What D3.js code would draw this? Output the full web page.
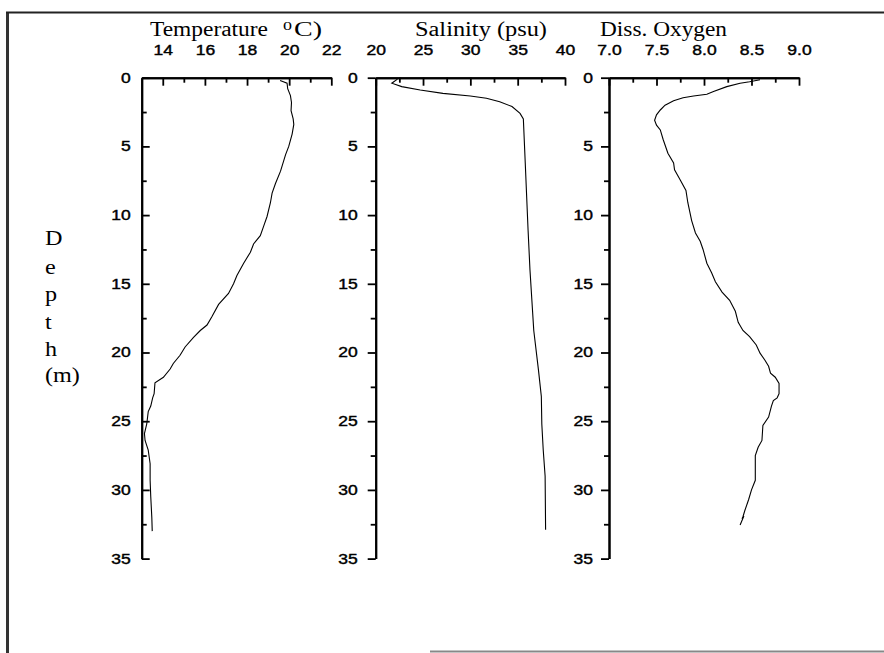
<!DOCTYPE html>
<html>
<head>
<meta charset="utf-8">
<script src="https://cdn.jsdelivr.net/npm/d3@7"></script>
<style>
  body { margin: 0; background: #fff; }
  .title { font-family: "Liberation Serif", "Times New Roman", serif; font-size: 20px; fill: #000; }
</style>
</head>
<body>
<div id="chart"></div>
<script>
// depth profiles (depth in m)
const tempDepth = [0.2, 0.4, 0.8, 1.3, 1.8, 2.4, 3.0, 3.4, 4.1, 5.0, 5.6, 6.4, 6.8, 7.7, 8.4, 9.1, 10.1, 10.8, 11.5, 12.1,
    12.7, 13.5, 14.4, 15.0, 15.7, 16.5, 17.4, 18.0, 18.4, 18.9, 19.6, 20.2, 20.8, 21.2, 21.8, 22.2, 23.0, 23.3, 23.9, 24.3,
    25.2, 25.9, 26.4, 27.1, 28.1, 29.3, 30.5, 32.0, 33.0];
const tempValues = [19.57, 19.90, 19.93, 20.06, 20.11, 20.09, 20.19, 20.22, 20.14, 19.98, 19.83, 19.67, 19.59, 19.35, 19.19,
    19.11, 18.95, 18.79, 18.63, 18.31, 18.16, 17.84, 17.52, 17.36, 17.12, 16.65, 16.33, 16.10, 15.78, 15.46, 15.06, 14.82,
    14.50, 14.35, 14.03, 13.63, 13.59, 13.52, 13.43, 13.31, 13.24, 13.13, 13.16, 13.31, 13.40, 13.40, 13.43, 13.48, 13.50];

const salDepth = [0.1, 0.4, 0.65, 0.9, 1.14, 1.33, 1.5, 1.75, 2.1, 2.6, 3.0, 6.2, 11.1, 14.0, 16.2, 18.4, 21.3, 23.2, 25.2,
    27.1, 29.0, 32.9];
const salValues = [22.3, 21.7, 22.75, 24.7, 27.1, 30.0, 31.7, 33.1, 34.4, 35.25, 35.6, 35.8, 36.1, 36.3, 36.5, 36.7, 37.2,
    37.5, 37.55, 37.7, 37.9, 37.95];

const oxyDepth = [0.15, 0.3, 0.4, 0.65, 1.0, 1.2, 1.33, 1.46, 1.67, 2.0, 2.35, 2.7, 3.1, 3.45, 3.8, 4.5, 5.5, 6.2, 6.7, 7.45,
    8.2, 9.1, 10.4, 11.3, 11.9, 12.5, 13.5, 14.2, 14.85, 15.6, 16.2, 17.0, 17.8, 18.4, 18.85, 19.45, 20.05, 20.55, 21.0, 21.5,
    21.8, 22.25, 23.0, 23.3, 23.5, 23.9, 24.7, 25.3, 26.4, 26.9, 27.5, 29.3, 30.0, 30.7, 31.5, 31.95, 32.1, 31.9, 32.55];
const oxyValues = [8.59, 8.48, 8.38, 8.24, 8.10, 8.03, 7.89, 7.78, 7.68, 7.59, 7.54, 7.50, 7.48, 7.50, 7.54, 7.57, 7.62, 7.68,
    7.69, 7.75, 7.81, 7.83, 7.87, 7.91, 7.96, 7.99, 8.03, 8.08, 8.12, 8.19, 8.27, 8.33, 8.36, 8.41, 8.48, 8.55, 8.59, 8.64,
    8.68, 8.70, 8.75, 8.79, 8.79, 8.77, 8.73, 8.71, 8.68, 8.62, 8.61, 8.57, 8.54, 8.54, 8.50, 8.47, 8.43, 8.41, 8.40, 8.42, 8.38];

// tick values
const depthTicks = [0, 5, 10, 15, 20, 25, 30, 35];
const depthMinor = [2.5, 7.5, 12.5, 17.5, 22.5, 27.5, 32.5];
const tempTicks = [14, 16, 18, 20, 22];
const tempMinor = [15, 17, 19, 21];
const salTicks = [20, 25, 30, 35, 40];
const salMinor = [22.5, 27.5, 32.5, 37.5];
const oxyTicks = [7.0, 7.5, 8.0, 8.5, 9.0];
const oxyMinor = [7.25, 7.75, 8.25, 8.75];

const width = 884, height = 653;

const svg = d3.select("#chart").append("svg")
    .attr("width", width)
    .attr("height", height);

// frame of the scan
svg.append("line").attr("x1", 7.5).attr("x2", 7.5).attr("y1", 12).attr("y2", 653)
    .attr("stroke", "#333").attr("stroke-width", 3);
svg.append("line").attr("x1", 6).attr("x2", 884).attr("y1", 12.5).attr("y2", 12.5)
    .attr("stroke", "#222").attr("stroke-width", 2);
svg.append("line").attr("x1", 430).attr("x2", 884).attr("y1", 651.5).attr("y2", 651.5)
    .attr("stroke", "#888").attr("stroke-width", 2);

const y = d3.scaleLinear().domain([0, 35]).range([77.7, 558.6]);

const panels = [
    { depth: tempDepth, values: tempValues, domain: [13, 22], range: [141.7, 331.3], ticks: tempTicks, minor: tempMinor,
      fmt: d3.format("d"), inward: true, pad: 11 },
    { depth: salDepth, values: salValues, domain: [20, 40], range: [375.7, 565], ticks: salTicks, minor: salMinor,
      fmt: d3.format("d"), inward: false, pad: 10 },
    { depth: oxyDepth, values: oxyValues, domain: [7, 9], range: [609, 799], ticks: oxyTicks, minor: oxyMinor,
      fmt: d3.format(".1f"), inward: false, pad: 8 }
];

panels.forEach(p => {
    const x = d3.scaleLinear().domain(p.domain).range(p.range);
    const g = svg.append("g");

    // top axis, ticks pointing down into the plot
    g.append("g")
        .attr("transform", `translate(0,${y(0)})`)
        .call(d3.axisTop(x).tickValues(p.minor).tickSizeInner(-5).tickSizeOuter(0).tickFormat(""));
    g.append("g")
        .attr("transform", `translate(0,${y(0)})`)
        .call(d3.axisTop(x).tickValues(p.ticks).tickSizeInner(-8).tickSizeOuter(0).tickPadding(23).tickFormat(p.fmt));

    // depth axis (temperature ticks point inward, the others outward)
    const major = p.inward ? -8 : 8, minor = p.inward ? -5 : 5;
    g.append("g")
        .attr("transform", `translate(${x.range()[0]},0)`)
        .call(d3.axisLeft(y).tickValues(depthMinor).tickSizeInner(minor).tickSizeOuter(0).tickFormat(""));
    g.append("g")
        .attr("transform", `translate(${x.range()[0]},0)`)
        .call(d3.axisLeft(y).tickValues(depthTicks).tickSizeInner(major).tickSizeOuter(0)
            .tickPadding(p.pad).tickFormat(d3.format("d")));

    g.selectAll(".domain").attr("stroke", "#000").attr("stroke-width", 2);
    g.selectAll(".tick line").attr("stroke", "#000").attr("stroke-width", 1.8);

    const line = d3.line()
        .x((d, i) => x(p.values[i]))
        .y(d => y(d));
    g.append("path")
        .datum(p.depth)
        .attr("d", line)
        .attr("fill", "none")
        .attr("stroke", "#000")
        .attr("stroke-width", 1.1);
});

// tick labels: Arial-like, widened to the scan's proportions
svg.selectAll(".tick text")
    .attr("font-family", "'Liberation Sans', Arial, sans-serif")
    .attr("font-size", 14)
    .attr("fill", "#000")
    .attr("stroke", "#000")
    .attr("stroke-width", 0.4)
    .each(function() {
        const w = this.getComputedTextLength();
        if (w > 0) d3.select(this).attr("textLength", w * 1.25).attr("lengthAdjust", "spacingAndGlyphs");
    });

// titles
function title(txt, x0, yb, w, size) {
    const t = svg.append("text").attr("class", "title")
        .attr("x", x0).attr("y", yb).text(txt);
    if (size) t.style("font-size", size + "px");
    t.attr("textLength", w).attr("lengthAdjust", "spacingAndGlyphs");
    return t;
}
title("Temperature", 150, 36, 118);
title("0", 283, 30, 9, 13);
title("C)", 294, 36, 28);
title("Salinity (psu)", 415, 36, 132);
title("Diss. Oxygen", 600, 36, 127);

// vertical depth label
const depthLetters = ["D", "e", "p", "t", "h", "(m)"];
const letterY = [245, 274, 301, 329, 356, 382];
depthLetters.forEach((l, i) => {
    const t = svg.append("text").attr("class", "title")
        .attr("x", 45).attr("y", letterY[i])
        .style("font-size", "21px")
        .text(l);
    const w = t.node().getComputedTextLength();
    t.attr("textLength", w * 1.15).attr("lengthAdjust", "spacingAndGlyphs");
});
</script>
</body>
</html>
